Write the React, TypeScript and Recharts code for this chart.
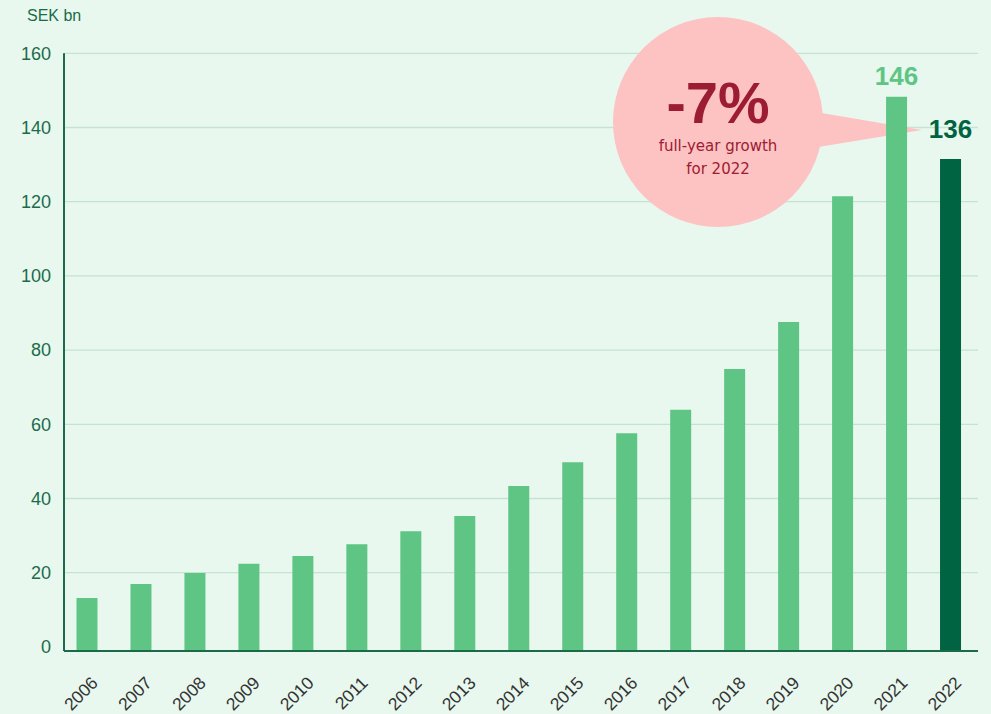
import React from 'react';
import { BarChart, Bar, XAxis, YAxis, CartesianGrid, Cell, LabelList } from 'recharts';

// ---------- data ----------
const YEARS = ['2006', '2007', '2008', '2009', '2010', '2011', '2012', '2013', '2014', '2015', '2016', '2017', '2018', '2019', '2020', '2021', '2022'];
const REVENUE = [13.2, 16.95, 19.9, 22.4, 24.5, 27.7, 31.2, 35.3, 43.4, 49.8, 57.6, 63.9, 74.9, 87.6, 121.5, 148.3, 131.5];
const VALUE_LABELS = ['', '', '', '', '', '', '', '', '', '', '', '', '', '', '', '146', '136'];
const HIGHLIGHT_YEAR = '2022';
const Y_TICKS = [0, 20, 40, 60, 80, 100, 120, 140, 160];
const GRID_VALUES = [20, 40, 60, 80, 100, 120, 140, 160];
const AXIS_FLOOR = -1.1;
const Y_MAX = 160;
const UNIT_LABEL = 'SEK bn';
const CALLOUT_VALUE = '-7%';
const CALLOUT_LINES = ['full-year growth', 'for 2022'];

const data = YEARS.map((year, i) => ({ year, value: REVENUE[i], label: VALUE_LABELS[i] }));

// ---------- style ----------
const W = 991;
const H = 714;
const BG = '#e8f8ee';
const LIGHT = '#5fc585';
const DARK = '#006341';
const AXIS = '#1b6b4b';
const GRID = '#c4e3d2';
const PINK = '#fdc2c2';
const RED = '#9c1c33';
const FONT = '"Liberation Sans", Arial, sans-serif';
const MARGIN = { top: 53.3, right: 13, bottom: 0, left: 0 };
const Y_AXIS_W = 64;
const X_AXIS_H = 63;

const gridGenerator = (args: any) => {
  const { yAxis, offset } = args || {};
  if (yAxis && typeof yAxis.scale === 'function') {
    return GRID_VALUES.map((v) => yAxis.scale(v));
  }
  return GRID_VALUES.map((v) => offset.top + (offset.height * (Y_MAX - v)) / (Y_MAX - AXIS_FLOOR));
};

const YearTick = (props: any) => {
  const { x, y, payload } = props;
  const ax = x + 11.5;
  const ay = y + 33;
  return (
    <text x={ax} y={ay} transform={`rotate(-45 ${ax} ${ay})`} textAnchor="end" fill="#333333" fontSize={17.5} fontFamily={FONT}>
      {payload.value}
    </text>
  );
};

const ValueLabel = (props: any) => {
  const vb = props.viewBox || props;
  const { value, index } = props;
  if (!value) return null;
  const isHi = YEARS[index] === HIGHLIGHT_YEAR;
  const cx = vb.x + vb.width / 2;
  const ty = vb.y - (isHi ? 21 : 12);
  return (
    <text x={cx} y={ty} textAnchor="middle" fill={isHi ? DARK : LIGHT} fontSize={26} fontWeight="bold" fontFamily={FONT}>
      {value}
    </text>
  );
};

const layer: React.CSSProperties = { position: 'absolute', left: 0, top: 0 };

export default function App() {
  return (
    <div style={{ position: 'absolute', left: 0, top: 0, width: W, height: H, background: BG, overflow: 'hidden' }}>
      {/* grid layer */}
      <div style={layer}>
        <BarChart width={W} height={H} data={data} margin={MARGIN}>
          <CartesianGrid vertical={false} horizontalCoordinatesGenerator={gridGenerator} stroke={GRID} strokeWidth={1.3} />
          <XAxis dataKey="year" height={X_AXIS_H} tick={false} axisLine={false} tickLine={false} padding={{ left: -3.5, right: 0 }} />
          <YAxis width={Y_AXIS_W} domain={[AXIS_FLOOR, Y_MAX]} ticks={Y_TICKS} tick={false} axisLine={false} tickLine={false} type="number" allowDataOverflow />
          <Bar dataKey="value" fill="transparent" isAnimationActive={false} />
        </BarChart>
      </div>

      {/* callout layer */}
      <svg width={W} height={H} style={layer}>
        <polygon points="718,122 823,113.3 921.7,130 820,146.7" fill={PINK} />
        <circle cx={718} cy={122} r={105} fill={PINK} />
        <text x={718} y={123} textAnchor="middle" fill={RED} fontSize={58} fontWeight="bold" fontFamily={FONT}>
          {CALLOUT_VALUE}
        </text>
        <text x={718} y={151} textAnchor="middle" fill={RED} fontSize={15} fontFamily='"DejaVu Sans", sans-serif'>
          {CALLOUT_LINES[0]}
        </text>
        <text x={718} y={173.5} textAnchor="middle" fill={RED} fontSize={15} fontFamily='"DejaVu Sans", sans-serif'>
          {CALLOUT_LINES[1]}
        </text>
      </svg>

      {/* bars and axes layer */}
      <div style={layer}>
        <BarChart width={W} height={H} data={data} margin={MARGIN}>
          <XAxis
            dataKey="year"
            height={X_AXIS_H}
            interval={0}
            tickLine={false}
            tickSize={0}
            tickMargin={0}
            axisLine={{ stroke: AXIS, strokeWidth: 2 }}
            tick={<YearTick />}
            padding={{ left: -3.5, right: 0 }}
          />
          <YAxis
            width={Y_AXIS_W}
            type="number"
            domain={[AXIS_FLOOR, Y_MAX]}
            ticks={Y_TICKS}
            allowDataOverflow
            tickLine={false}
            tickSize={0}
            tickMargin={13}
            axisLine={{ stroke: AXIS, strokeWidth: 2 }}
            tick={{ fill: AXIS, fontSize: 18, fontFamily: FONT }}
          />
          <Bar dataKey={(d: any) => [AXIS_FLOOR, d.value]} barSize={21} isAnimationActive={false}>
            {data.map((d) => (
              <Cell key={d.year} fill={d.year === HIGHLIGHT_YEAR ? DARK : LIGHT} />
            ))}
            <LabelList dataKey="label" content={<ValueLabel />} />
          </Bar>
        </BarChart>
      </div>

      <svg width={W} height={H} style={{ ...layer, pointerEvents: 'none' }}>
        <text x={27} y={21} fill={AXIS} fontSize={16} fontFamily={FONT}>
          {UNIT_LABEL}
        </text>
      </svg>
    </div>
  );
}
